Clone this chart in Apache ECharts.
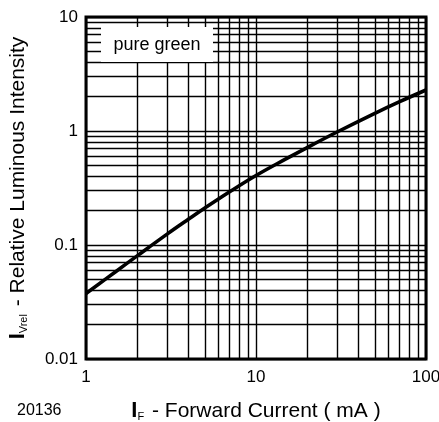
<!DOCTYPE html>
<html><head><meta charset="utf-8">
<script src="https://cdn.jsdelivr.net/npm/echarts@6/dist/echarts.min.js"></script>
<style>html,body{margin:0;padding:0;background:#fff}#c{width:439px;height:422px}</style>
</head><body><div id="c"></div>
<script>
const current = [1, 1.5, 2, 3, 4, 5, 7, 10, 15, 20, 30, 50, 70, 100];
const intensity = [0.0375, 0.0586, 0.0803, 0.1245, 0.168, 0.211, 0.293, 0.407, 0.569, 0.716, 0.98, 1.43, 1.81, 2.29];
const xMinor = [2, 3, 4, 5, 6, 7, 8, 9, 20, 30, 40, 50, 60, 70, 80, 90];
const yMinor = [0.02, 0.03, 0.04, 0.05, 0.06, 0.07, 0.08, 0.09,
                0.2, 0.3, 0.4, 0.5, 0.6, 0.7, 0.8, 0.9,
                2, 3, 4, 5, 6, 7, 8, 9];
const seriesName = 'pure green';
const figureId = '20136';

const FONT = '"Liberation Sans", Arial, Helvetica, sans-serif';
const gridLine = { color: '#000', width: 1.4, type: 'solid' };
const fmt = v => String(Number(Number(v).toPrecision(6)));
const titleRich = {
  b: { fontSize: 22, fontFamily: FONT, color: '#000', fontWeight: 'bold', verticalAlign: 'bottom', lineHeight: 24 },
  s: { fontSize: 11, fontFamily: FONT, color: '#000', verticalAlign: 'bottom', lineHeight: 20, padding: [0, 2, 0, 0] },
  t: { fontSize: 21, fontFamily: FONT, color: '#000', verticalAlign: 'bottom', lineHeight: 24 }
};

const chart = echarts.init(document.getElementById('c'), null, { renderer: 'canvas' });
chart.setOption({
  animation: false,
  backgroundColor: '#fff',
  grid: {
    left: 86, right: 13, top: 17, bottom: 63,
    containLabel: false, outerBoundsMode: 'none',
    show: true, borderColor: '#000', borderWidth: 3, backgroundColor: 'transparent'
  },
  xAxis: {
    type: 'log', logBase: 10, min: 1, max: 100,
    axisLine: { show: false }, axisTick: { show: false },
    splitLine: { show: true, lineStyle: gridLine },
    axisLabel: { formatter: fmt, color: '#000', fontSize: 17, fontFamily: FONT, margin: 10 },
    name: '{b|I}{s|F}{t| - Forward Current ( mA )}',
    nameLocation: 'middle', nameGap: 39,
    nameTextStyle: { color: '#000', fontFamily: FONT, rich: titleRich }
  },
  yAxis: {
    type: 'log', logBase: 10, min: 0.01, max: 10,
    axisLine: { show: false }, axisTick: { show: false },
    splitLine: { show: true, lineStyle: gridLine },
    axisLabel: { formatter: fmt, color: '#000', fontSize: 17, fontFamily: FONT, margin: 8 },
    name: '{b|I}{s|Vrel}{t| - Relative Luminous Intensity}',
    nameLocation: 'middle', nameGap: 57, nameRotate: 90,
    nameTextStyle: { color: '#000', fontFamily: FONT, rich: titleRich }
  },
  series: [
    {
      name: 'minor-grid', type: 'line', data: [], silent: true,
      markLine: {
        silent: true, symbol: ['none', 'none'], animation: false,
        label: { show: false },
        lineStyle: gridLine,
        data: xMinor.map(v => ({ xAxis: v })).concat(yMinor.map(v => ({ yAxis: v })))
      }
    },
    {
      name: seriesName, type: 'line', smooth: 0.4, showSymbol: false, z: 5,
      lineStyle: { color: '#000', width: 3.6 },
      data: current.map((x, i) => [x, intensity[i]])
    }
  ],
  graphic: [
    {
      type: 'group', left: 101, top: 27, z: 100,
      children: [
        { type: 'rect', shape: { x: 0, y: 0, width: 112, height: 35 }, style: { fill: '#fff' }, z: 100 },
        { type: 'text', x: 56, y: 18, z: 101, style: { text: seriesName, fill: '#000', font: '18px ' + FONT, align: 'center', verticalAlign: 'middle' } }
      ]
    },
    {
      type: 'text', left: 17, top: 403, z: 100,
      style: { text: figureId, fill: '#000', font: '16px ' + FONT }
    }
  ]
});
</script>
</body></html>
